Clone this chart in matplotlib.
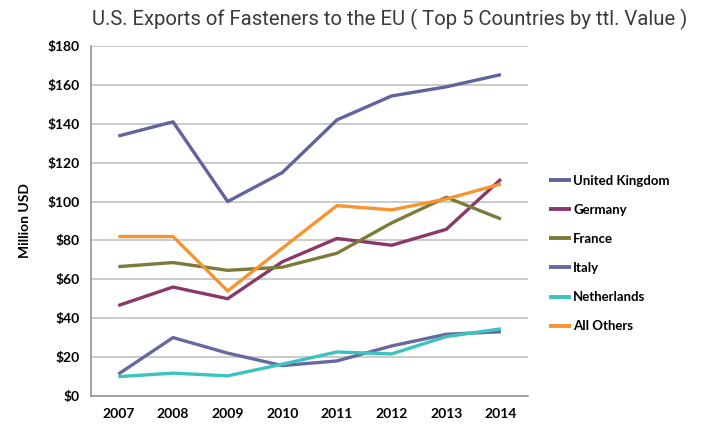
import matplotlib
matplotlib.use('Agg')
import matplotlib.pyplot as plt
import numpy as np

# ── Data ───────────────────────────────────────────────────────────
years = ['2007', '2008', '2009', '2010', '2011', '2012', '2013', '2014']

uk          = [133.7, 141.0, 100.0, 114.9, 142.0, 154.3, 159.0, 165.3]
germany     = [46.5, 56.0, 50.0, 69.0, 81.0, 77.5, 85.7, 111.5]
france      = [66.5, 68.6, 64.6, 66.2, 73.4, 89.0, 102.2, 91.0]
italy       = [11.2, 30.0, 22.0, 15.6, 18.0, 25.7, 31.7, 33.0]
netherlands = [9.9, 11.7, 10.3, 16.3, 22.6, 21.6, 30.5, 34.5]
all_others  = [82.0, 82.0, 54.0, 76.0, 97.9, 95.7, 101.3, 109.0]

series_names = ['United Kingdom', 'Germany', 'France', 'Italy', 'Netherlands', 'All Others']
series_vals  = [uk, germany, france, italy, netherlands, all_others]
series_cols  = ['#62629C', '#8A3868', '#7A7A3A', '#6868A0', '#3CC3C0', '#F7942F']

yticks = [0, 20, 40, 60, 80, 100, 120, 140, 160, 180]

# ── Figure ─────────────────────────────────────────────────────────
fig = plt.figure(figsize=(7.11, 4.28), dpi=100, facecolor='white')
ax = fig.add_axes([0.128, 0.075, 0.615, 0.8175])

x = np.arange(len(years))
for name, vals, col in zip(series_names, series_vals, series_cols):
    ax.plot(x, vals, color=col, linewidth=2.4, label=name,
            solid_capstyle='butt', zorder=3)

ax.set_xlim(-0.5, len(years) - 0.5)
ax.set_ylim(0, 180)
ax.set_yticks(yticks)
ax.set_yticklabels([f'${v}' for v in yticks], fontsize=10,
                   fontweight='bold', family='Lato')
ax.set_xticks(x)
ax.set_xticklabels(years, fontsize=10, fontweight='bold', family='Lato')
ax.tick_params(axis='both', length=0, pad=8)
ax.tick_params(axis='x', pad=9)

ax.grid(axis='y', color='#BDBDBD', linewidth=1.1)
ax.set_axisbelow(True)
for s in ['top', 'right']:
    ax.spines[s].set_visible(False)
for s in ['left', 'bottom']:
    ax.spines[s].set_color('#8C8C8C')
    ax.spines[s].set_linewidth(1.1)

ax.set_ylabel('Million USD', fontsize=10, fontweight='bold',
              family='Lato', labelpad=12)

# ── Legend ─────────────────────────────────────────────────────────
leg = fig.legend(loc='upper left', bbox_to_anchor=(0.755, 0.62),
                 frameon=False, handlelength=1.7, handletextpad=0.15,
                 labelspacing=1.3,
                 prop={'family': 'Lato', 'weight': 'bold', 'size': 9.5})
for line in leg.get_lines():
    line.set_linewidth(2.8)

# ── Title ──────────────────────────────────────────────────────────
fig.text(0.129, 0.955,
         'U.S. Exports of Fasteners to the EU ( Top 5 Countries by ttl. Value )',
         fontsize=14.6, color='#3A3A3A', ha='left', va='center',
         family=['Roboto', 'DejaVu Sans'])

plt.savefig('out.png', dpi=100, facecolor='white')
plt.close()
